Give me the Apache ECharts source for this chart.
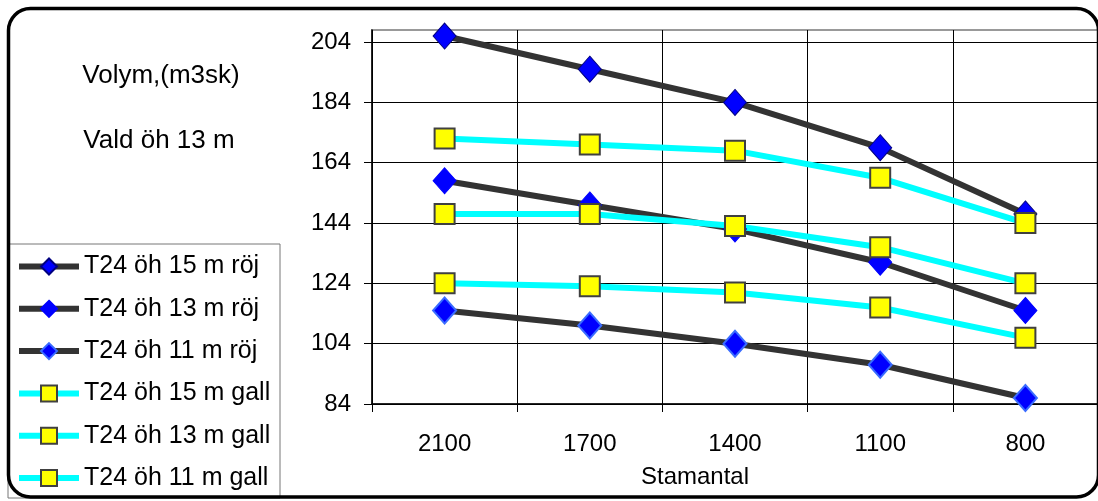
<!DOCTYPE html>
<html>
<head>
<meta charset="utf-8">
<script src="https://cdn.jsdelivr.net/npm/echarts@6/dist/echarts.min.js"></script>
<style>
  html, body { margin: 0; padding: 0; background: #fff; }
  #chart { width: 1098px; height: 501px; }
</style>
</head>
<body>
<div id="chart"></div>
<script>
// Stem count classes (x axis) and volume per hectare (m3sk)
const categories = ['2100', '1700', '1400', '1100', '800'];
const yTicks = [84, 104, 124, 144, 164, 184, 204];

// Pre-commercial thinning (röj) series
const roj15 = [206, 195, 184, 169, 147];
const roj13 = [158, 150, 142, 131, 115];
const roj11 = [115, 110, 104, 97, 86];

// Thinning (gall) series
const gall15 = [172, 170, 168, 159, 144];
const gall13 = [147, 147, 143, 136, 124];
const gall11 = [124, 123, 121, 116, 106];

const FONT = '"Liberation Sans", Arial, sans-serif';

function rojSeries(name, data, border, borderWidth) {
  return {
    name, type: 'line', data,
    symbol: 'diamond', symbolSize: [23, 26],
    lineStyle: { color: '#333333', width: 6 },
    itemStyle: { color: '#0000ff', borderColor: border, borderWidth },
    emphasis: { disabled: true },
    animation: false
  };
}
function gallSeries(name, data) {
  return {
    name, type: 'line', data,
    symbol: 'rect', symbolSize: 20,
    lineStyle: { color: '#00ffff', width: 6 },
    itemStyle: { color: '#ffff00', borderColor: '#404040', borderWidth: 2 },
    emphasis: { disabled: true },
    animation: false
  };
}

const chart = echarts.init(document.getElementById('chart'), null, { renderer: 'canvas' });
chart.setOption({
  backgroundColor: '#ffffff',
  animation: false,
  textStyle: { fontFamily: FONT },
  grid: {
    left: 372, top: 30, right: -5, bottom: 97,
    show: true, borderColor: '#999999', borderWidth: 2, backgroundColor: 'transparent'
  },
  legend: {
    orient: 'vertical', left: 11, top: 249, height: 260,
    itemWidth: 60, itemHeight: 20, itemGap: 17.3,
    lineStyle: { width: 6 },
    textStyle: { fontFamily: FONT, fontSize: 25, color: '#000', lineHeight: 25 },
    data: ['T24 öh 15 m röj', 'T24 öh 13 m röj', 'T24 öh 11 m röj',
           'T24 öh 15 m gall', 'T24 öh 13 m gall', 'T24 öh 11 m gall'],
    selectedMode: false
  },
  xAxis: {
    type: 'category', data: categories, boundaryGap: true,
    name: 'Stamantal', nameLocation: 'middle', nameGap: 61,
    nameTextStyle: { fontFamily: FONT, fontSize: 24, color: '#000', padding: [0, 80, 0, 0] },
    axisLine: { lineStyle: { color: '#000', width: 1.5 } },
    axisTick: { show: true, length: 8, interval: 0, alignWithLabel: false, lineStyle: { color: '#000' } },
    axisLabel: { fontFamily: FONT, fontSize: 24, color: '#000', margin: 28, interval: 0 },
    splitLine: { show: true, interval: 0, lineStyle: { color: '#000', width: 1 } }
  },
  yAxis: {
    type: 'value', min: 84, max: 208,
    axisLine: { show: true, lineStyle: { color: '#000', width: 1.5 } },
    axisTick: { show: true, length: 8, customValues: yTicks, lineStyle: { color: '#000' } },
    axisLabel: { fontFamily: FONT, fontSize: 24, color: '#000', margin: 21, customValues: yTicks },
    splitLine: { show: true, lineStyle: { color: '#000', width: 1 } }
  },
  graphic: [
    { type: 'rect', shape: { x: 8, y: 244, width: 272, height: 254 },
      style: { fill: 'none', stroke: '#777', lineWidth: 1 }, z: 1, silent: true },
    { type: 'rect', shape: { x: 8.5, y: 8.5, width: 1090, height: 488.5, r: 22 },
      style: { fill: 'none', stroke: '#000', lineWidth: 3.5 }, z: 10, silent: true },
    { type: 'text', x: 161, y: 76,
      style: { text: 'Volym,(m3sk)', font: '26px ' + FONT, fill: '#000', textAlign: 'center', textVerticalAlign: 'middle' } },
    { type: 'text', x: 159, y: 141,
      style: { text: 'Vald öh 13 m', font: '26px ' + FONT, fill: '#000', textAlign: 'center', textVerticalAlign: 'middle' } }
  ],
  series: [
    rojSeries('T24 öh 15 m röj', roj15, '#000080', 1),
    rojSeries('T24 öh 13 m röj', roj13, '#0000ff', 1),
    rojSeries('T24 öh 11 m röj', roj11, '#3a6cff', 2),
    gallSeries('T24 öh 15 m gall', gall15),
    gallSeries('T24 öh 13 m gall', gall13),
    gallSeries('T24 öh 11 m gall', gall11)
  ]
});
</script>
</body>
</html>
